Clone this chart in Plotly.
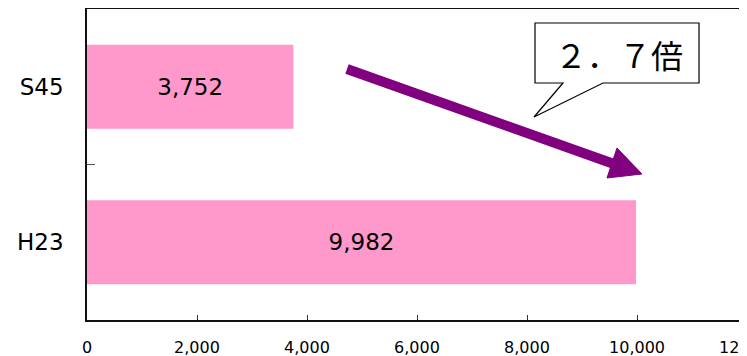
import plotly.graph_objects as go

categories = ["S45", "H23"]
values = [3752, 9982]
x_tick_vals = [0, 2000, 4000, 6000, 8000, 10000, 12000]
x_tick_text = ["0", "2,000", "4,000", "6,000", "8,000", "10,000", "12,000"]
callout_text = "２．７倍"

OFF = 8  # default page body margin
W, H = 739, 348
ML, MR, MT, MB = 79, 0, 1, 36
PW, PH = W - ML - MR, H - MT - MB


def px(x, y):
    # convert reference page pixels to paper coordinates
    return (x - OFF - ML) / PW, (H - MB - (y - OFF)) / PH


def path(points):
    pts = [px(*p) for p in points]
    return "M " + " L ".join(f"{a:.4f},{b:.4f}" for a, b in pts) + " Z"


FONT = "DejaVu Sans"

fig = go.Figure()
fig.add_trace(go.Bar(
    y=categories, x=values, orientation="h",
    marker=dict(color="#FF99CC", line=dict(width=0)),
    texttemplate="%{x:,}", textposition="inside", insidetextanchor="middle",
    textfont=dict(family=FONT, size=23, color="#000000"),
    width=0.54,
))

shapes = []
x0, y0 = px(347, 69)
x1, y1 = px(614, 164)
shapes.append(dict(type="line", xref="paper", yref="paper", x0=x0, y0=y0, x1=x1, y1=y1,
                   line=dict(color="#800080", width=10), layer="above"))
shapes.append(dict(type="path", xref="paper", yref="paper",
                   path=path([(642, 174), (617, 148), (607, 178)]),
                   fillcolor="#800080", line=dict(color="#800080", width=1), layer="above"))
shapes.append(dict(type="path", xref="paper", yref="paper",
                   path=path([(535, 23), (699, 23), (699, 83), (603, 83), (534, 117), (563, 83), (535, 83)]),
                   fillcolor="white", line=dict(color="black", width=1.2), layer="above"))

tx, ty = px(619, 54)
fig.update_layout(
    width=W, height=H,
    margin=dict(l=ML, r=MR, t=MT, b=MB, pad=0, autoexpand=False),
    paper_bgcolor="white", plot_bgcolor="white",
    showlegend=False,
    bargap=0.46,
    shapes=shapes,
    annotations=[dict(xref="paper", yref="paper", x=tx, y=ty, text=callout_text,
                      showarrow=False, xanchor="center", yanchor="middle",
                      font=dict(family="Noto Sans CJK JP", size=32, color="black"))],
    xaxis=dict(range=[0, 12000], tickvals=x_tick_vals, ticktext=x_tick_text,
               ticks="inside", ticklen=5, tickcolor="#333", tickwidth=1,
               showline=True, linecolor="#111", linewidth=1.5, mirror=True,
               showgrid=False, zeroline=False, automargin=False,
               tickfont=dict(family=FONT, size=16, color="#000"),
               ticklabelstandoff=12, ticklabeloverflow="allow"),
    yaxis=dict(categoryorder="array", categoryarray=categories, autorange="reversed",
               ticks="inside", tickson="boundaries", ticklen=8, tickcolor="#555",
               showline=True, linecolor="#111", linewidth=1.5,
               showgrid=False, zeroline=False, automargin=False,
               tickfont=dict(family=FONT, size=23, color="#000"),
               ticklabelstandoff=17),
)

fig.write_html("out.html")
